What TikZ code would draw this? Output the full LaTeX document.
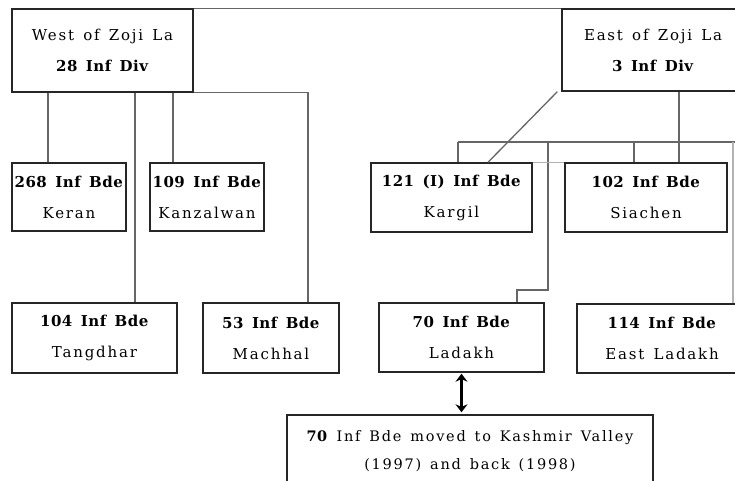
\documentclass[tikz,border=0pt]{standalone}
\usepackage{fontspec}
\setmainfont{DejaVu Serif}[LetterSpace=12,WordSpace=1.4,BoldFeatures={LetterSpace=3,WordSpace=1.5}]
\usetikzlibrary{arrows.meta,calc}
\begin{document}
\begin{tikzpicture}[x=1pt,y=-1pt,
  box/.style={draw=black!85,line width=1.4pt,rectangle,inner sep=0pt,align=center,font=\fontsize{15}{31}\selectfont},
  conn/.style={draw=black!60,line width=1.3pt},
  faint/.style={draw=black!30,line width=1.2pt},
  twoway/.style={line width=2.4pt,{Stealth[length=8pt,width=12pt]}-{Stealth[length=8pt,width=12pt]}}]
\useasboundingbox (0,0) rectangle (735,481);
\fill[white] (0,0) rectangle (735,481);
% boxes
\node[box,minimum width=181pt,minimum height=83pt] (west) at (102.5,50.5) {West of Zoji La\\\textbf{28 Inf Div}};
\node[box,minimum width=182pt,minimum height=82pt] (east) at (653,50) {East of Zoji La\\\textbf{3 Inf Div}};
\node[box,minimum width=114pt,minimum height=68pt] (b268) at (69,197) {\textbf{268 Inf Bde}\\Keran};
\node[box,minimum width=114pt,minimum height=68pt] (b109) at (207,197) {\textbf{109 Inf Bde}\\Kanzalwan};
\node[box,minimum width=161pt,minimum height=69pt] (b121) at (451.5,197.5) {\textbf{121 (I) Inf Bde}\\Kargil};
\node[box,minimum width=162pt,minimum height=69pt] (b102) at (646,197.5) {\textbf{102 Inf Bde}\\Siachen};
\node[box,minimum width=165pt,minimum height=70pt] (b104) at (94.5,338) {\textbf{104 Inf Bde}\\Tangdhar};
\node[box,minimum width=136pt,minimum height=70pt] (b53) at (271,338) {\textbf{53 Inf Bde}\\Machhal};
\node[box,minimum width=165pt,minimum height=69pt] (b70) at (461.5,337.5) {\textbf{70 Inf Bde}\\Ladakh};
\node[box,minimum width=170pt,minimum height=69pt] (b114) at (662,338.5) {\textbf{114 Inf Bde}\\East Ladakh};
\node[box,minimum width=366pt,minimum height=72pt,font=\fontsize{14.5}{28}\selectfont] (bot) at (470,451) {\textbf{70} Inf Bde moved to Kashmir Valley\\(1997) and back (1998)};
% coordinates
\coordinate (busL) at (458,142);
\coordinate (busR) at (745,142);
\coordinate (k1) at (548,142);
\coordinate (k2) at (548,290);
\coordinate (k3) at (517,290);
% connectors west
\draw[conn] (west.north east) -- (east.north west);
\draw[conn] (48,0 |- west.south) -- (48,0 |- b268.north);
\draw[conn] (135,0 |- west.south) -- (135,0 |- b104.north);
\draw[conn] (173,0 |- west.south) -- (173,0 |- b109.north);
\draw[conn] (west.south east) -- (308,0 |- west.south) -- (308,0 |- b53.north);
% connectors east
\draw[conn] ([xshift=-4pt]east.south west) -- (488,0 |- b121.north);
\draw[conn] (busL) -- (busR);
\draw[conn] (busL) -- (busL |- b121.north);
\draw[conn] (k1) -- (k2) -- (k3) -- (k3 |- b70.north);
\draw[conn] (634,142) -- (634,0 |- b102.north);
\draw[conn] (679,0 |- east.south) -- (679,0 |- b102.north);
\draw[faint] (b121.north east) -- (b102.north west);
\draw[faint] (733,142) -- (733,0 |- b114.north);
% arrow
\draw[twoway] ([yshift=-1pt]b70.south) -- ([yshift=2pt]b70.south |- bot.north);
\end{tikzpicture}
\end{document}
